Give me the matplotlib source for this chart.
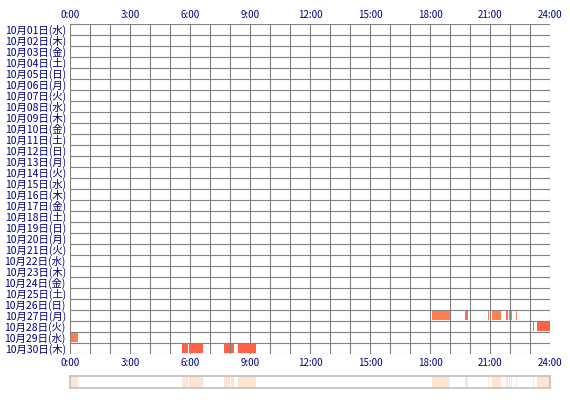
import matplotlib
matplotlib.use("Agg")
import matplotlib.pyplot as plt

plt.rcParams['font.family'] = ['Noto Sans CJK JP', 'DejaVu Sans']

days = ["10月01日(水)", "10月02日(木)", "10月03日(金)", "10月04日(土)", "10月05日(日)",
        "10月06日(月)", "10月07日(火)", "10月08日(水)", "10月09日(木)", "10月10日(金)",
        "10月11日(土)", "10月12日(日)", "10月13日(月)", "10月14日(火)", "10月15日(水)",
        "10月16日(木)", "10月17日(金)", "10月18日(土)", "10月19日(日)", "10月20日(月)",
        "10月21日(火)", "10月22日(水)", "10月23日(木)", "10月24日(金)", "10月25日(土)",
        "10月26日(日)", "10月27日(月)", "10月28日(火)", "10月29日(水)", "10月30日(木)"]

hour_ticks = [0, 3, 6, 9, 12, 15, 18, 21, 24]
hour_labels = ["0:00", "3:00", "6:00", "9:00", "12:00", "15:00", "18:00", "21:00", "24:00"]

# activity segments: (day index, start hour, end hour, colour)
seg_day = [26, 26, 26, 26, 26, 26, 26, 26,
           27, 27,
           28,
           29, 29, 29, 29, 29]
seg_start = [18.12, 19.75, 20.92, 21.08, 21.80, 21.95, 22.05, 22.30,
             23.15, 23.35,
             0.04,
             5.62, 5.97, 7.72, 8.05, 8.42]
seg_end = [19.00, 19.92, 20.96, 21.55, 21.88, 22.00, 22.10, 22.35,
           23.20, 24.00,
           0.42,
           5.90, 6.63, 8.00, 8.18, 9.30]
seg_color = ["#ff7f50", "#ff6f4c", "#ff7f50", "#ff7f50", "#ff6f4c", "#ff7f50", "#ff7f50", "#ff7f50",
             "#ff6347", "#ff6347",
             "#ff7f50",
             "#ff6347", "#ff6347", "#ff6347", "#ff6347", "#ff6347"]

fig = plt.figure(figsize=(5.7, 4.0), dpi=100)
ax = fig.add_axes([70/570, 46/400, 480/570, 330/400])
n = len(days)
ax.set_xlim(0, 24)
ax.set_ylim(n, 0)

grid_c = "#808080"
for h in range(25):
    ax.axvline(h, color=grid_c, lw=0.8, zorder=1)
for i in range(n + 1):
    ax.axhline(i, color=grid_c, lw=0.8, zorder=1)

for d, s, e, c in zip(seg_day, seg_start, seg_end, seg_color):
    ax.barh(d + 0.5, e - s, left=s, height=0.88, color=c, lw=0, zorder=2)

for sp in ax.spines.values():
    sp.set_visible(False)

ax.set_xticks(hour_ticks)
ax.set_xticklabels(hour_labels)
ax.set_yticks([i + 0.5 for i in range(n)])
ax.set_yticklabels(days)
ax.tick_params(axis='x', length=0, labeltop=True, labelbottom=True, pad=3,
               labelsize=7, labelcolor="#000080")
ax.tick_params(axis='y', length=0, pad=3, labelsize=7.5, labelcolor="#000080")

# summary bar
ax2 = fig.add_axes([70/570, 12/400, 480/570, 12/400])
ax2.set_xlim(0, 24)
ax2.set_ylim(0, 1)
for s, e in zip(seg_start, seg_end):
    ax2.barh(0.5, e - s, left=s, height=1, color="#ffe3d3", lw=0)
ax2.set_xticks([])
ax2.set_yticks([])
for sp in ax2.spines.values():
    sp.set_color("#c0c0c0")
    sp.set_linewidth(1.2)

fig.savefig("out.png", dpi=100)
